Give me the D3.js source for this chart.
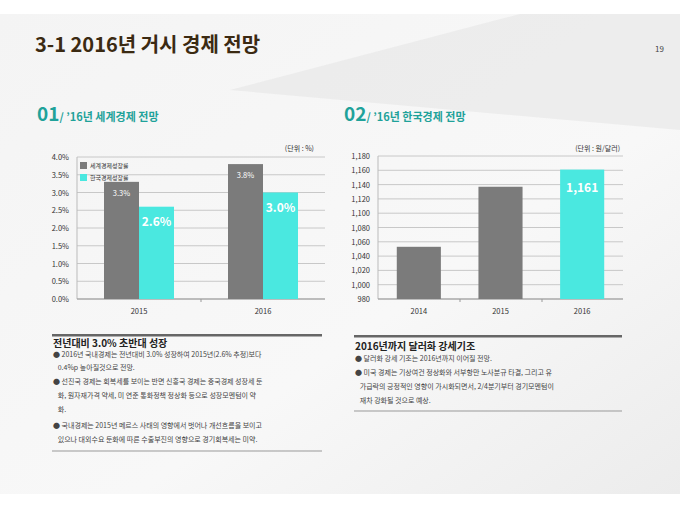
<!DOCTYPE html>
<html><head><meta charset="utf-8">
<script src="https://cdn.jsdelivr.net/npm/d3@7"></script>
<style>body{margin:0}svg{display:block;font-family:"Noto Sans CJK KR","Noto Sans",sans-serif}</style>
</head><body><svg id="c" width="680" height="510"></svg>
<script>
const years1 = ['2015', '2016'];
const worldGrowth = [3.3, 3.8];
const koreaGrowth = [2.6, 3.0];
const yTicks1 = [0, 0.5, 1, 1.5, 2, 2.5, 3, 3.5, 4];
const years2 = ['2014', '2015', '2016'];
const usdKrw = [1053, 1137, 1161];
const yTicks2 = d3.range(980, 1181, 20);
const leftText = [
  '● 2016년 국내경제는 전년대비 3.0% 성장하여 2015년(2.6% 추정)보다',
  '   0.4%p 높아질것으로 전망.',
  '● 선진국 경제는 회복세를 보이는 반면 신흥국 경제는 중국경제 성장세 둔',
  '   화, 원자재가격 약세, 미 연준 통화정책 정상화 등으로 성장모멘텀이 약',
  '   화.',
  '● 국내경제는 2015년 메르스 사태의 영향에서 벗어나 개선흐름을 보이고',
  '   있으나 대외수요 둔화에 따른 수출부진의 영향으로 경기회복세는 미약.'];
const leftY = [357, 370, 384, 398, 412, 428, 442];
const rightText = [
  '● 달러화 강세 기조는 2016년까지 이어질 전망.',
  '● 미국 경제는 기상여건 정상화와 서부항만 노사분규 타결, 그리고 유',
  '   가급락의 긍정적인 영향이 가시화되면서, 2/4분기부터 경기모멘텀이',
  '   재차 강화될 것으로 예상.'];
const rightY = [361, 375, 389, 403];

const GRAY = '#7b7b7b', CYAN = '#4ae8e0', TEAL = '#1fa29a';
const svg = d3.select('#c');
const defs = svg.append('defs');
const g = defs.append('linearGradient').attr('id', 'bg').attr('x1', 0).attr('y1', 0).attr('x2', 1).attr('y2', 1);
g.append('stop').attr('offset', 0).attr('stop-color', '#f4f4f4');
g.append('stop').attr('offset', 0.6).attr('stop-color', '#f8f8f8');
g.append('stop').attr('offset', 1).attr('stop-color', '#ececec');
svg.append('rect').attr('width', 680).attr('height', 510).attr('fill', '#fff');
svg.append('rect').attr('y', 14).attr('width', 680).attr('height', 480).attr('fill', 'url(#bg)');
svg.append('path').attr('d', 'M230,90 L520,14 L680,14 L680,130 Z').attr('fill', '#e6e6e6').attr('opacity', 0.6);

svg.append('text').attr('x', 35).attr('y', 52).attr('font-size', 20).attr('font-weight', 'bold')
  .attr('fill', '#3b2a12').text('3-1 2016년 거시 경제 전망');
svg.append('text').attr('x', 655).attr('y', 52).attr('font-size', 8).attr('fill', '#444').text('19');

function secTitle(x, num, txt) {
  const t = svg.append('text').attr('x', x).attr('y', 121).attr('fill', TEAL).attr('font-weight', 'bold');
  t.append('tspan').attr('font-size', 19).text(num);
  t.append('tspan').attr('font-size', 11).text('/ ’16년 ' + txt);
}
secTitle(37, '01', '세계경제 전망');
secTitle(344, '02', '한국경제 전망');

function frame(x0, x1, y, ticks, fmt) {
  const gg = svg.append('g');
  gg.selectAll('line.g').data(ticks).join('line')
    .attr('x1', x0).attr('x2', x1).attr('y1', d => y(d)).attr('y2', d => y(d))
    .attr('stroke', '#c8c8c8');
  gg.append('line').attr('x1', x0).attr('x2', x0).attr('y1', y.range()[1]).attr('y2', y.range()[0]).attr('stroke', '#bbb');
  gg.append('line').attr('x1', x0).attr('x2', x1).attr('y1', y.range()[0]).attr('y2', y.range()[0]).attr('stroke', '#999');
  gg.selectAll('text').data(ticks).join('text')
    .attr('x', x0 - 8).attr('y', d => y(d) + 3).attr('text-anchor', 'end')
    .attr('font-size', 7.5).attr('fill', '#333').text(fmt);
}

// chart 1
const y1 = d3.scaleLinear().domain([0, 4]).range([299, 157]);
const x1 = d3.scaleBand().domain(years1).range([77, 325]);
frame(77, 325, y1, yTicks1, d => d.toFixed(1) + '%');
const xi = d3.scaleBand().domain([0, 1]).range([0, 70]);
years1.forEach((yr, i) => {
  const cx = x1(yr) + x1.bandwidth() / 2 - 35;
  [[worldGrowth[i], GRAY], [koreaGrowth[i], CYAN]].forEach(([v, c], k) => {
    svg.append('rect').attr('x', cx + xi(k)).attr('width', xi.bandwidth())
      .attr('y', y1(v)).attr('height', y1(0) - y1(v)).attr('fill', c);
    svg.append('text').attr('x', cx + xi(k) + xi.bandwidth() / 2)
      .attr('y', k ? y1(v) + 19 : y1(v) + 14).attr('text-anchor', 'middle').attr('fill', '#fff')
      .attr('font-size', k ? 12 : 7.5).attr('font-weight', k ? 'bold' : 'normal')
      .text(v.toFixed(1) + '%');
  });
  svg.append('text').attr('x', x1(yr) + x1.bandwidth() / 2).attr('y', 314).attr('text-anchor', 'middle')
    .attr('font-size', 7.5).attr('fill', '#333').text(yr);
});
svg.append('line').attr('x1', 201).attr('x2', 201).attr('y1', 299).attr('y2', 302).attr('stroke', '#999');
[['세계경제성장률', GRAY], ['한국경제성장률', CYAN]].forEach(([t, c], i) => {
  svg.append('rect').attr('x', 80).attr('y', 162 + i * 12).attr('width', 7).attr('height', 7).attr('fill', c);
  svg.append('text').attr('x', 90).attr('y', 168 + i * 12).attr('font-size', 6).attr('fill', '#333').text(t);
});
svg.append('text').attr('x', 314).attr('y', 151).attr('text-anchor', 'end').attr('font-size', 7).attr('fill', '#333').text('(단위 : %)');

// chart 2
const y2 = d3.scaleLinear().domain([980, 1180]).range([299, 156]);
const x2 = d3.scaleBand().domain(years2).range([378, 623]).paddingInner(0.46).paddingOuter(0.23);
frame(378, 623, y2, yTicks2, d3.format(','));
years2.forEach((yr, i) => {
  svg.append('rect').attr('x', x2(yr)).attr('width', x2.bandwidth()).attr('y', y2(usdKrw[i]))
    .attr('height', y2(980) - y2(usdKrw[i])).attr('fill', i === 2 ? CYAN : GRAY);
  svg.append('text').attr('x', x2(yr) + x2.bandwidth() / 2).attr('y', 314).attr('text-anchor', 'middle')
    .attr('font-size', 7.5).attr('fill', '#333').text(yr);
});
[460, 542].forEach(x => svg.append('line').attr('x1', x).attr('x2', x).attr('y1', 299).attr('y2', 302).attr('stroke', '#999'));
svg.append('text').attr('x', x2('2016') + x2.bandwidth() / 2).attr('y', y2(1161) + 22).attr('text-anchor', 'middle')
  .attr('font-size', 12).attr('font-weight', 'bold').attr('fill', '#fff').text(d3.format(',')(1161));
svg.append('text').attr('x', 620).attr('y', 151).attr('text-anchor', 'end').attr('font-size', 7).attr('fill', '#333').text('(단위 : 원/달러)');

// text boxes
function box(x0, x1, top, bottom, head, hy, lines, ys) {
  svg.append('rect').attr('x', x0).attr('y', top).attr('width', x1 - x0).attr('height', 2.5).attr('fill', '#666');
  svg.append('line').attr('x1', x0).attr('x2', x1).attr('y1', bottom).attr('y2', bottom).attr('stroke', '#999');
  svg.append('text').attr('x', x0 + 1).attr('y', hy).attr('font-size', 10).attr('font-weight', 'bold').attr('fill', '#222').text(head);
  svg.selectAll(null).data(lines).join('text').attr('x', x0 + 1).attr('y', (d, i) => ys[i])
    .attr('font-size', 7).attr('fill', '#444').attr('xml:space', 'preserve').text(d => d);
}
box(52, 322, 334, 451, '전년대비 3.0% 초반대 성장', 347, leftText, leftY);
box(354, 622, 335, 411, '2016년까지 달러화 강세기조', 350, rightText, rightY);
</script></body></html>
